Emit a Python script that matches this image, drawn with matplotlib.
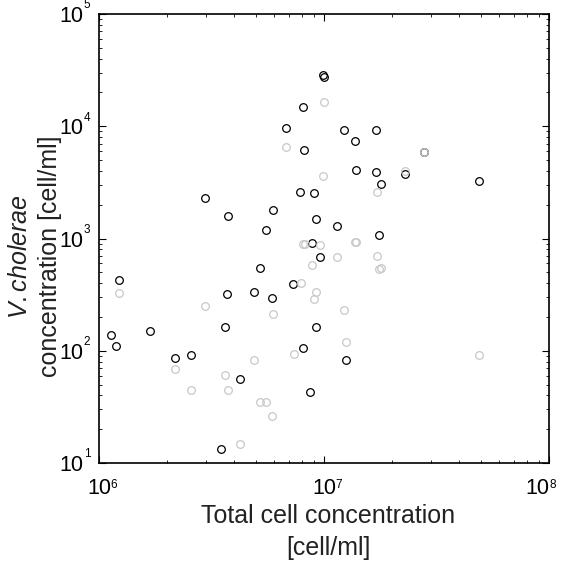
import matplotlib
matplotlib.use('Agg')
import matplotlib.pyplot as plt
import matplotlib.transforms as mtransforms

plt.rcParams['font.family'] = ['Liberation Sans', 'DejaVu Sans']
plt.rcParams['mathtext.fontset'] = 'custom'
plt.rcParams['mathtext.rm'] = 'Liberation Sans'
plt.rcParams['mathtext.it'] = 'Liberation Sans:italic'

# V. cholerae vs total cell concentration (black series)
black_x = [9.93e6, 1.003e7, 8.04e6, 6.78e6, 8.19e6, 7.82e6, 9.05e6, 2.95e6, 5.95e6, 3.73e6,
           9.21e6, 5.51e6, 1.231e7, 1.70e7, 1.373e7, 1.388e7, 1.711e7, 1.792e7, 2.29e7, 4.89e7,
           1.146e7, 1.752e7, 8.87e6, 9.65e6, 5.18e6, 1.231e6, 7.30e6, 3.71e6, 4.90e6, 5.87e6,
           3.64e6, 9.26e6, 1.69e6, 1.134e6, 1.186e6, 8.07e6, 2.18e6, 2.57e6, 4.25e6, 1.255e7,
           8.68e6, 3.50e6, 2.79e7]
black_y = [2.84e4, 2.72e4, 1.485e4, 9.65e3, 6.14e3, 2.57e3, 2.56e3, 2.30e3, 1.805e3, 1.586e3,
           1.50e3, 1.19e3, 9.20e3, 9.20e3, 7.34e3, 4.08e3, 3.91e3, 3.08e3, 3.75e3, 3.23e3,
           1.30e3, 1.081e3, 912, 691, 543, 424, 397, 322, 336, 293,
           163, 164, 151, 139, 111, 106.5, 86.7, 91.1, 56.0, 82.4,
           42.9, 13.2, 5.86e3]

# second series (light gray)
gray_x = [1.0e7, 6.78e6, 9.95e6, 1.715e7, 2.29e7, 2.79e7, 8.04e6, 8.23e6, 9.63e6, 1.38e7,
          1.394e7, 1.145e7, 1.715e7, 8.87e6, 1.755e7, 1.796e7, 1.231e6, 7.88e6, 9.21e6, 9.05e6,
          2.95e6, 5.95e6, 1.231e7, 1.255e7, 7.33e6, 4.90e6, 2.18e6, 3.64e6, 2.57e6, 3.73e6,
          5.18e6, 5.52e6, 5.87e6, 4.25e6, 4.89e7]
gray_y = [1.645e4, 6.47e3, 3.63e3, 2.61e3, 4.02e3, 5.86e3, 888, 888, 870, 927,
          940, 687, 696, 581, 532, 551, 329, 405, 334, 289,
          249, 214, 231, 119, 94.1, 82.2, 69.2, 60.8, 44.4, 44.4,
          34.7, 34.7, 26.4, 14.8, 91.1]

x_exp = [6, 7, 8]
y_exp = [1, 2, 3, 4, 5]

fig = plt.figure(figsize=(5.63, 5.61), dpi=100)
ax = fig.add_axes([0.1758, 0.1747, 0.7993, 0.8003])
ax.set_xscale('log')
ax.set_yscale('log')

ax.plot(black_x, black_y, 'o', mfc='none', mec='k', ms=5.5, mew=0.9, ls='none')
ax.plot(gray_x, gray_y, 'o', mfc='none', mec='#c8c8c8', ms=5.5, mew=0.9, ls='none')

ax.set_xlim(1e6, 1e8)
ax.set_ylim(1e1, 1e5)

# MATLAB-like tick labels: big "10" with a small exponent
ax.set_xticks([10.0 ** e for e in x_exp])
ax.set_xticklabels(['10'] * len(x_exp))
ax.set_yticks([10.0 ** e for e in y_exp])
ax.set_yticklabels(['10'] * len(y_exp))
ax.get_xticklabels()[-1].set_ha('right')

ax.tick_params(which='both', direction='in', top=True, right=True, colors='k')
ax.tick_params(which='major', length=5, width=0.8, labelsize=15.5)
ax.tick_params(axis='x', which='major', pad=11)
ax.tick_params(axis='y', which='major', pad=11)
ax.tick_params(which='minor', length=2.5, width=0.6)
for s in ax.spines.values():
    s.set_linewidth(1.2)

xtr = mtransforms.blended_transform_factory(ax.transData, ax.transAxes)
for i, e in enumerate(x_exp):
    dx = 8.0 if i < len(x_exp) - 1 else 0.5
    ax.annotate(str(e), xy=(10.0 ** e, 0), xycoords=xtr, xytext=(dx, -11.5),
                textcoords='offset points', ha='left', va='top', fontsize=8.5,
                annotation_clip=False)
ytr = mtransforms.blended_transform_factory(ax.transAxes, ax.transData)
for e in y_exp:
    ax.annotate(str(e), xy=(0, 10.0 ** e), xycoords=ytr, xytext=(-11, 10.5),
                textcoords='offset points', ha='left', va='top', fontsize=8.5,
                annotation_clip=False)

ax.set_xlabel('Total cell concentration\n[cell/ml]', fontsize=18, linespacing=1.4,
              color='#222222')
ax.xaxis.set_label_coords(0.51, -0.092)
ax.set_ylabel('$\\mathit{V.cholerae}$\nconcentration [cell/ml]', fontsize=18,
              linespacing=1.3, color='#222222')
ax.yaxis.set_label_coords(-0.082, 0.46)

fig.savefig('out.png', dpi=100)
